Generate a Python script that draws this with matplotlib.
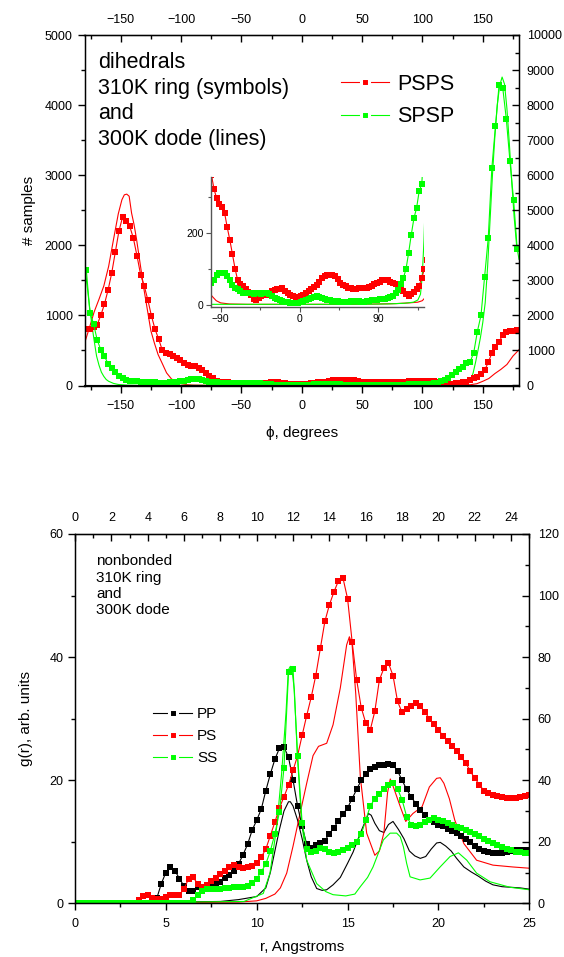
import numpy as np
import matplotlib
matplotlib.use("Agg")
import matplotlib.pyplot as plt
from matplotlib.lines import Line2D
from matplotlib.ticker import MultipleLocator

plt.rcParams['font.family'] = ['Liberation Sans', 'DejaVu Sans']

RED = '#FF0000'
GREEN = '#00FF00'
BLACK = '#000000'

# ---------------- top panel: dihedrals ----------------
phi_sym = np.arange(-178.5, 180, 3.0)   # bin centres of symbol series
psps_ring = [800, 810, 830, 870, 1000, 1160, 1360, 1600, 1900, 2200,
             2400, 2340, 2270, 2100, 1850, 1580, 1420, 1220, 990, 800,
             660, 500, 470, 450, 420, 390, 360, 320, 295, 280,
             272, 255, 215, 180, 140, 100, 68, 57, 52, 45,
             35, 28, 18, 14, 20, 25, 27, 28, 31, 38,
             42, 44, 45, 46, 40, 32, 27, 25, 23, 22,
             24, 27, 32, 38, 44, 50, 55, 65, 75, 80,
             83, 84, 83, 80, 72, 62, 55, 52, 48, 46,
             45, 44, 46, 47, 46, 48, 51, 54, 57, 60,
             64, 69, 70, 68, 65, 60, 58, 56, 48, 38,
             30, 26, 30, 36, 45, 54, 75, 100, 125, 165,
             215, 330, 460, 555, 625, 720, 768, 775, 782, 785]
spsp_ring = [1650, 1040, 880, 650, 510, 420, 310, 250, 195, 140,
             105, 80, 70, 62, 58, 55, 54, 52, 50, 46,
             42, 40, 42, 45, 48, 54, 60, 70, 84, 88,
             90, 88, 80, 68, 56, 48, 44, 38, 33, 32,
             32, 32, 30, 33, 32, 30, 32, 33, 30, 26,
             20, 16, 13, 11, 9, 8, 7, 6, 6, 6,
             8, 11, 14, 17, 19, 22, 25, 23, 19, 16,
             15, 13, 12, 11, 10, 9, 9, 8, 9, 11,
             12, 11, 10, 9, 9, 10, 11, 13, 14, 15,
             16, 17, 18, 19, 21, 25, 32, 42, 58, 75,
             100, 145, 195, 240, 268, 315, 335, 470, 770, 1000,
             1550, 2100, 3100, 3700, 4290, 4250, 3800, 3200, 2650, 1950]

phi_psps_dode = [-180, -176, -172, -168, -164, -160, -156, -152, -149, -147,
                 -145, -143, -141, -139, -137, -134, -131, -128, -125, -122,
                 -119, -116, -112, -108, -104, -100, -95, -90, -80, -60,
                 -30, 0, 30, 60, 90, 110, 125, 135, 140, 145,
                 150, 155, 160, 165, 170, 175, 180]
psps_dode = [600, 820, 1050, 1230, 1420, 1700, 2080, 2450, 2650, 2720,
             2730, 2700, 2460, 2300, 2100, 1750, 1400, 1090, 780, 600,
             440, 330, 180, 95, 45, 25, 12, 6, 3, 2,
             2, 2, 2, 2, 3, 4, 6, 8, 12, 25,
             60, 100, 170, 230, 300, 420, 510]
phi_spsp_dode = [-180, -178, -176, -174, -172, -170, -168, -166, -164, -162,
                 -160, -156, -152, -145, -135, -120, -100, -60, 0, 60,
                 100, 120, 130, 135, 138, 140, 142, 144, 146, 148,
                 150, 152, 154, 156, 158, 160, 162, 164, 166, 168,
                 170, 172, 174, 176, 178, 180]
spsp_dode = [1700, 1450, 1150, 880, 640, 420, 290, 190, 130, 85,
             60, 30, 15, 6, 3, 2, 2, 2, 2, 2,
             3, 5, 8, 14, 30, 80, 180, 330, 500, 680,
             900, 1180, 1700, 2350, 3000, 3550, 4000, 4280, 4400, 4300,
             3950, 3450, 2900, 2400, 2000, 1800]

# ---------------- bottom panel: g(r) ----------------
r_sym = np.arange(0, 25.01, 0.25)
pp_ring = [0]*18 + [0.8, 3.2, 5.0, 5.9, 5.3, 4.0, 2.8, 2.0, 2.0, 2.6,
           2.6, 2.7, 2.9, 3.2, 3.5, 4.1, 4.6, 5.3, 6.4, 7.9,
           9.6, 11.9, 13.5, 15.3, 18.3, 21.0, 23.4, 25.2, 25.4, 23.7,
           20.0, 15.8, 12.5, 9.6, 9.0, 9.5, 9.8, 10.2, 11.3, 12.3,
           13.4, 14.5, 15.5, 17.0, 18.5, 20.0, 21.0, 21.8, 22.2, 22.5,
           22.5, 22.6, 22.5, 21.5, 20.0, 18.5, 17.3, 16.2, 15.2, 14.3,
           13.6, 13.2, 12.8, 12.5, 12.1, 11.8, 11.4, 11.0, 10.5, 9.9,
           9.3, 8.9, 8.5, 8.3, 8.2, 8.1, 8.1, 8.3, 8.5, 8.7,
           8.7, 8.6, 8.6]
ps_ring = [0]*14 + [0.6, 1.2, 1.3, 0.9, 0.7, 0.7, 1.0, 1.3, 1.4, 1.4,
           2.3, 4.0, 4.2, 3.2, 2.7, 3.0, 3.6, 4.1, 4.7, 5.3,
           5.9, 6.2, 5.9, 5.8, 5.9, 6.1, 6.5, 7.5, 8.8, 11.0,
           13.2, 15.5, 17.3, 19.2, 21.6, 24.0, 27.3, 30.5, 33.5, 37.0,
           41.4, 45.8, 48.5, 50.6, 52.4, 52.8, 49.5, 42.5, 36.3, 31.8,
           29.3, 28.2, 31.2, 36.3, 38.2, 39.0, 37.0, 32.8, 31.0, 31.5,
           32.0, 32.5, 32.0, 31.1, 30.0, 29.1, 28.2, 27.2, 26.4, 25.6,
           24.7, 23.7, 22.8, 21.5, 20.3, 19.3, 18.3, 17.9, 17.6, 17.4,
           17.2, 17.1, 17.1, 17.1, 17.2, 17.4, 17.6]
ss_ring = [0]*26 + [0.5, 1.3, 2.0, 2.4, 2.4, 2.4, 2.4, 2.5, 2.5, 2.6,
           2.6, 2.7, 2.8, 3.3, 4.0, 5.1, 6.4, 8.5, 11.3, 14.8,
           22.0, 37.5, 38.0, 24.0, 13.0, 8.9, 8.3, 8.5, 9.0, 8.8,
           8.4, 8.1, 8.3, 8.7, 9.0, 9.4, 10.0, 11.2, 13.5, 15.8,
           17.0, 17.8, 18.6, 19.2, 19.6, 18.6, 16.8, 14.1, 12.8, 12.6,
           12.8, 13.2, 13.6, 13.8, 13.6, 13.3, 13.0, 12.7, 12.4, 12.2,
           11.9, 11.6, 11.2, 10.9, 10.5, 10.2, 9.8, 9.4, 9.1, 8.8,
           8.6, 8.4, 8.3, 8.2, 8.1]

r_pp_dode = [0, 8, 9, 10, 10.5, 10.75, 11, 11.25, 11.5, 11.75,
             11.85, 12.0, 12.25, 12.5, 12.75, 13.0, 13.3, 13.6, 13.85, 14.2,
             14.6, 15.0, 15.3, 15.7, 16.0, 16.15, 16.3, 16.5, 16.75, 17.0,
             17.25, 17.5, 17.8, 18.1, 18.4, 18.7, 19.0, 19.3, 19.6, 19.9,
             20.1, 20.4, 20.7, 21.0, 21.4, 21.8, 22.2, 22.6, 23.0, 23.5,
             24.0, 24.5, 25.0]
pp_dode = [0, 0.3, 0.6, 1.1, 2.5, 5.0, 8.5, 12.0, 15.0, 16.5,
           16.5, 15.8, 13.5, 10.5, 7.0, 4.3, 2.4, 2.1, 2.2, 3.0,
           4.2, 6.5, 8.3, 11.4, 13.5, 14.6, 14.3, 13.0, 11.8, 11.5,
           12.8, 13.3, 12.0, 10.5, 8.5, 7.7, 7.3, 7.6, 8.8, 9.8,
           9.9, 9.3, 8.5, 7.3, 5.9, 5.1, 4.4, 3.6, 3.0, 2.7,
           2.6, 2.5, 2.3]
r_ps_dode = [0, 9, 10, 10.5, 11, 11.3, 11.65, 12.0, 12.4, 12.75,
             13.1, 13.4, 13.85, 14.2, 14.6, 14.95, 15.1, 15.25, 15.45, 15.7,
             16.05, 16.5, 16.75, 17.0, 17.2, 17.35, 17.52, 17.9, 18.2, 18.6,
             19.1, 19.5, 19.9, 20.1, 20.3, 20.6, 20.9, 21.4, 22.1, 23.0,
             24.1, 25.0]
ps_dode = [0, 0.2, 0.4, 0.8, 1.5, 2.5, 4.9, 9.3, 14.8, 19.5,
           24.0, 25.5, 26.0, 29.0, 35.0, 42.0, 43.3, 42.0, 34.0, 20.6,
           11.4, 7.8, 8.5, 11.5, 18.0, 20.2, 18.9, 15.7, 13.3, 14.6,
           15.7, 18.9, 20.3, 20.4, 19.5, 17.0, 13.5, 9.7, 7.0, 6.2,
           5.9, 5.7]
r_ss_dode = [0, 9.3, 10.36, 10.73, 11.1, 11.37, 11.61, 11.74, 11.85, 11.93,
             12.07, 12.24, 12.48, 12.75, 13.3, 13.8, 14.2, 14.9, 15.4, 15.7,
             16.1, 16.4, 16.7, 16.97, 17.34, 17.7, 17.9, 18.07, 18.25, 18.44,
             18.99, 19.54, 20.09, 20.64, 21.1, 21.56, 22.1, 22.84, 23.94, 25.0]
ss_dode = [0, 0.3, 1.6, 4.9, 12.4, 21.1, 30.9, 37.9, 38.5, 38.2,
           34.7, 23.8, 13.0, 7.0, 3.2, 1.9, 1.4, 1.2, 1.5, 2.7,
           4.2, 5.9, 8.2, 10.3, 11.4, 11.4, 10.8, 9.2, 6.5, 4.3,
           3.8, 4.1, 5.9, 7.6, 8.2, 7.0, 4.9, 3.5, 2.6, 2.2]

W, H = 564, 957
fig = plt.figure(figsize=(W / 100, H / 100), dpi=100)


def rect(l, r, t, b):
    return [l / W, 1 - b / H, (r - l) / W, (b - t) / H]


TICK_FS = 9
MS = 3.9
SYM_LW = 0.8
LINE_LW = 0.8


def style_main(ax):
    for s in ax.spines.values():
        s.set_linewidth(1.0)
    ax.tick_params(which='both', direction='out', labelsize=TICK_FS, width=1.0,
                   top=False, right=False)
    ax.tick_params(axis='x', which='both', pad=5.5)
    ax.tick_params(which='major', length=5)
    ax.tick_params(which='minor', length=3)


def style_secondary(axs, pad):
    axs.tick_params(which='both', direction='in', labelsize=TICK_FS, width=1.0, pad=pad)
    axs.tick_params(which='major', length=5)
    axs.tick_params(which='minor', length=3)


def legend_handle(color):
    # coloured square with a white rim -> small gap between line and symbol
    return Line2D([], [], color=color, lw=SYM_LW, marker='s', ms=5.6,
                  mfc=color, mec='white', mew=2.2)


# ================= top panel =================
ax1 = fig.add_axes(rect(84.5, 519, 35, 385.5))
style_main(ax1)
ax1.plot(phi_psps_dode, psps_dode, color=RED, lw=LINE_LW)
ax1.plot(phi_spsp_dode, spsp_dode, color=GREEN, lw=LINE_LW)
ax1.plot(phi_sym, psps_ring, color=RED, lw=SYM_LW, marker='s', ms=MS, mew=0)
ax1.plot(phi_sym, spsp_ring, color=GREEN, lw=SYM_LW, marker='s', ms=MS, mew=0)
ax1.set_xlim(-180, 180)
ax1.set_ylim(0, 5000)
ax1.xaxis.set_major_locator(MultipleLocator(50))
ax1.xaxis.set_minor_locator(MultipleLocator(25))
ax1.yaxis.set_major_locator(MultipleLocator(1000))
ax1.yaxis.set_minor_locator(MultipleLocator(500))
ax1.set_xlabel('ϕ, degrees', fontsize=11, labelpad=10)
ax1.set_ylabel('# samples', fontsize=11, labelpad=6)

top1 = ax1.secondary_xaxis('top')
top1.xaxis.set_major_locator(MultipleLocator(50))
top1.xaxis.set_minor_locator(MultipleLocator(25))
style_secondary(top1, 6.5)

right1 = ax1.twinx()
right1.set_ylim(0, 10000)
right1.yaxis.set_major_locator(MultipleLocator(1000))
right1.yaxis.set_minor_locator(MultipleLocator(500))
style_secondary(right1, 5.5)

ax1.text(0.031, 0.952, 'dihedrals\n310K ring (symbols)\nand\n300K dode (lines)',
         transform=ax1.transAxes, ha='left', va='top', fontsize=15.5, linespacing=1.3)

leg1 = ax1.legend([legend_handle(RED), legend_handle(GREEN)], ['PSPS', 'SPSP'],
                  loc='upper left', bbox_to_anchor=((341 - 84.5) / 434.5, (385.5 - 74) / 350.5),
                  frameon=False, fontsize=15.5, handlelength=2.25, handletextpad=0.35,
                  labelspacing=0.52, borderaxespad=0, borderpad=0, numpoints=1)

# inset
axi = fig.add_axes(rect(211, 424, 176.7, 306.5))
axi.patch.set_alpha(0)
axi.plot(phi_psps_dode, psps_dode, color=RED, lw=LINE_LW)
axi.plot(phi_spsp_dode, spsp_dode, color=GREEN, lw=LINE_LW)
axi.plot(phi_sym, psps_ring, color=RED, lw=SYM_LW, marker='s', ms=MS, mew=0)
axi.plot(phi_sym, spsp_ring, color=GREEN, lw=SYM_LW, marker='s', ms=MS, mew=0)
axi.set_xlim(-101, 142)
axi.set_ylim(-4, 355)
for side in ('top', 'right'):
    axi.spines[side].set_visible(False)
for side in ('left', 'bottom'):
    axi.spines[side].set_color('#555555')
    axi.spines[side].set_linewidth(1.0)
axi.xaxis.set_major_locator(MultipleLocator(90))
axi.xaxis.set_minor_locator(MultipleLocator(45))
axi.yaxis.set_major_locator(MultipleLocator(200))
axi.yaxis.set_minor_locator(MultipleLocator(100))
axi.tick_params(which='both', direction='out', labelsize=7.5, width=0.8, colors='#555555',
                labelcolor='black', pad=2)
axi.tick_params(which='major', length=3.5)
axi.tick_params(which='minor', length=2)

# ================= bottom panel =================
ax2 = fig.add_axes(rect(75, 529.3, 534, 903.3))
style_main(ax2)
ax2.plot(r_pp_dode, pp_dode, color=BLACK, lw=LINE_LW)
ax2.plot(r_ps_dode, ps_dode, color=RED, lw=LINE_LW)
ax2.plot(r_ss_dode, ss_dode, color=GREEN, lw=LINE_LW)
ax2.plot(r_sym, pp_ring, color=BLACK, lw=SYM_LW, marker='s', ms=MS, mew=0)
ax2.plot(r_sym, ps_ring, color=RED, lw=SYM_LW, marker='s', ms=MS, mew=0)
ax2.plot(r_sym, ss_ring, color=GREEN, lw=SYM_LW, marker='s', ms=MS, mew=0)
ax2.set_xlim(0, 25)
ax2.set_ylim(0, 60)
ax2.xaxis.set_major_locator(MultipleLocator(5))
ax2.xaxis.set_minor_locator(MultipleLocator(2.5))
ax2.yaxis.set_major_locator(MultipleLocator(20))
ax2.yaxis.set_minor_locator(MultipleLocator(10))
ax2.set_xlabel('r, Angstroms', fontsize=11, labelpad=7)
ax2.set_ylabel('g(r), arb. units', fontsize=11, labelpad=12)

top2 = ax2.secondary_xaxis('top')
top2.xaxis.set_major_locator(MultipleLocator(2))
top2.xaxis.set_minor_locator(MultipleLocator(1))
style_secondary(top2, 7)

right2 = ax2.twinx()
right2.set_ylim(0, 120)
right2.yaxis.set_major_locator(MultipleLocator(20))
right2.yaxis.set_minor_locator(MultipleLocator(10))
style_secondary(right2, 6)

ax2.text(0.046, 0.945, 'nonbonded\n310K ring\nand\n300K dode',
         transform=ax2.transAxes, ha='left', va='top', fontsize=11, linespacing=1.2)

leg2 = ax2.legend([legend_handle(BLACK), legend_handle(RED), legend_handle(GREEN)],
                  ['PP', 'PS', 'SS'],
                  loc='upper left',
                  bbox_to_anchor=((152.7 - 75) / 454.3, (903.3 - 707) / 369.3),
                  frameon=False, fontsize=11, handlelength=2.6, handletextpad=0.3,
                  labelspacing=0.52, borderaxespad=0, borderpad=0, numpoints=1)

fig.savefig('out.png', dpi=100)
